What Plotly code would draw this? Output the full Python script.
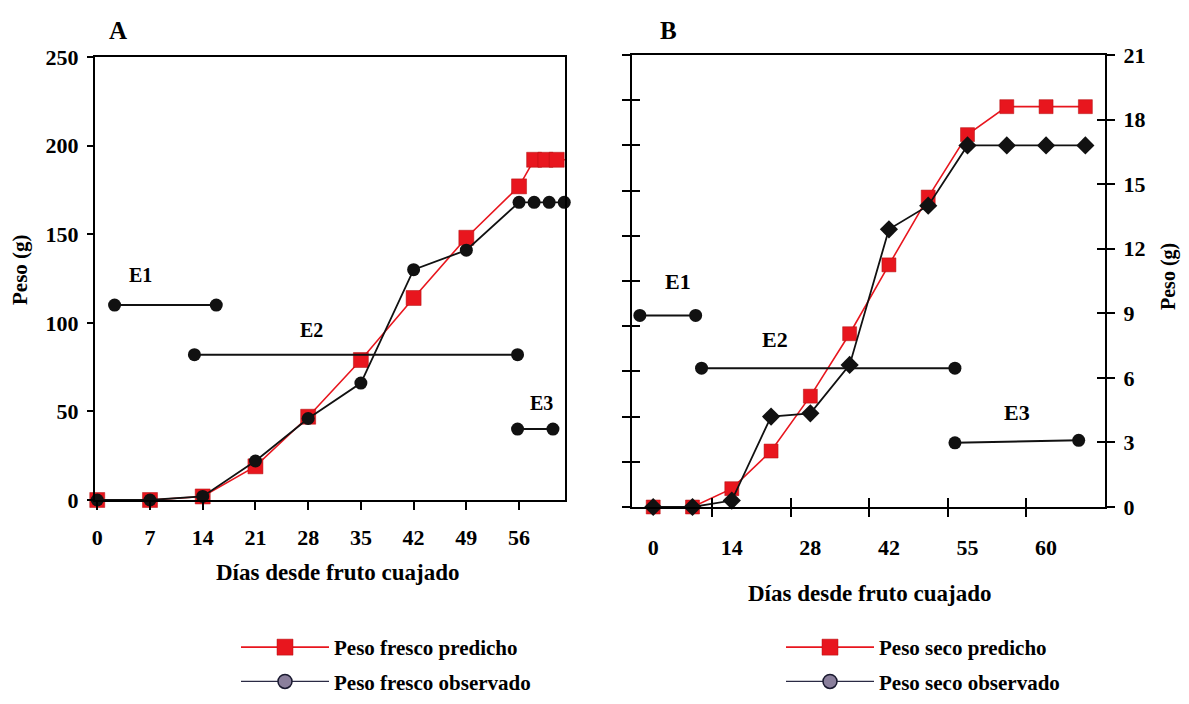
import plotly.graph_objects as go

# ---------------- Data: panel A (peso fresco) ----------------
dias_A_pred = [0, 7, 14, 21, 28, 35, 42, 49, 56, 58, 59.5, 61, 62.5]
peso_fresco_pred = [0, 0, 2, 19, 47, 79, 114, 148, 177, 192, 192, 192, 192]
dias_A_obs = [0, 7, 14, 21, 28, 35, 42, 49, 56, 58, 60, 62]
peso_fresco_obs = [0, 0, 2, 22, 46, 66, 130, 141, 168, 168, 168, 168]
ticks_A = [0, 7, 14, 21, 28, 35, 42, 49, 56]

etapas_A = {
    "E1": {"x": [2.3, 15.8], "y": [110, 110], "lx": 5.8, "ly": 127},
    "E2": {"x": [12.9, 55.8], "y": [82, 82], "lx": 28.5, "ly": 96},
    "E3": {"x": [55.8, 60.5], "y": [40, 40], "lx": 59.0, "ly": 55},
}

# ---------------- Data: panel B (peso seco) ----------------
pos_B = [0, 1, 2, 3, 4, 5, 6, 7, 8, 9, 10, 11]
peso_seco_pred = [0, 0, 0.85, 2.6, 5.15, 8.05, 11.25, 14.4, 17.3, 18.6, 18.6, 18.6]
peso_seco_obs = [0, 0, 0.3, 4.2, 4.35, 6.6, 12.9, 14.0, 16.8, 16.8, 16.8, 16.8]
tickpos_B = [0, 2, 4, 6, 8, 10]
ticklabels_B = ["0", "14", "28", "42", "55", "60"]
tickmarks_B = [1.5, 3.5, 5.5, 7.5, 9.5]

etapas_B = {
    "E1": {"x": [-0.34, 1.08], "y": [8.9, 8.9], "lx": 0.62, "ly": 10.5},
    "E2": {"x": [1.23, 7.68], "y": [6.45, 6.45], "lx": 3.1, "ly": 7.8},
    "E3": {"x": [7.68, 10.83], "y": [2.98, 3.1], "lx": 9.25, "ly": 4.4},
}

RED = "#e8161e"
BLACK = "#111111"
FONT = "Liberation Serif"
TFS = 22
OFF = 8  # page body margin
W, H = 1189 - 2 * OFF, 704 - 2 * OFF


def px(X):
    return (X - OFF) / W


def py(Y):
    return 1 - (Y - OFF) / H


def bf(size):
    return dict(family=FONT, size=size, color="black", weight="bold")


fig = go.Figure()

# ---- Panel A traces ----
fig.add_trace(go.Scatter(x=dias_A_pred, y=peso_fresco_pred, mode="lines+markers",
                         line=dict(color=RED, width=1.6),
                         marker=dict(symbol="square", size=15, color=RED,
                                     line=dict(color="#b01010", width=0.5)),
                         cliponaxis=False, showlegend=False, xaxis="x", yaxis="y"))
fig.add_trace(go.Scatter(x=dias_A_obs, y=peso_fresco_obs, mode="lines+markers",
                         line=dict(color=BLACK, width=1.8),
                         marker=dict(symbol="circle", size=13, color=BLACK),
                         cliponaxis=False, showlegend=False, xaxis="x", yaxis="y"))
for name, e in etapas_A.items():
    fig.add_trace(go.Scatter(x=e["x"], y=e["y"], mode="lines+markers",
                             line=dict(color=BLACK, width=2),
                             marker=dict(symbol="circle", size=13, color=BLACK),
                             cliponaxis=False, showlegend=False, xaxis="x", yaxis="y"))

# ---- Panel B traces ----
fig.add_trace(go.Scatter(x=pos_B, y=peso_seco_pred, mode="lines+markers",
                         line=dict(color=RED, width=1.6),
                         marker=dict(symbol="square", size=14, color=RED,
                                     line=dict(color="#b01010", width=0.5)),
                         cliponaxis=False, showlegend=False, xaxis="x2", yaxis="y2"))
fig.add_trace(go.Scatter(x=pos_B, y=peso_seco_obs, mode="lines+markers",
                         line=dict(color=BLACK, width=1.8),
                         marker=dict(symbol="diamond", size=14, color=BLACK),
                         cliponaxis=False, showlegend=False, xaxis="x2", yaxis="y2"))
for name, e in etapas_B.items():
    fig.add_trace(go.Scatter(x=e["x"], y=e["y"], mode="lines+markers",
                             line=dict(color=BLACK, width=2),
                             marker=dict(symbol="circle", size=13, color=BLACK),
                             cliponaxis=False, showlegend=False, xaxis="x2", yaxis="y2"))

# dummy traces so overlay axes are drawn
for xa, ya in [("x3", "y2"), ("x4", "y2"), ("x2", "y3"), ("x2", "y4"), ("x2", "y5")]:
    fig.add_trace(go.Scatter(x=[None], y=[None], xaxis=xa, yaxis=ya,
                             showlegend=False, hoverinfo="skip"))

# ---- Legend entries ----
leg_font = bf(21)
legend_items = [
    ("Peso fresco predicho", "legend", "x", "y", "pred"),
    ("Peso fresco observado", "legend", "x", "y", "obs"),
    ("Peso seco predicho", "legend2", "x2", "y2", "pred"),
    ("Peso seco observado", "legend2", "x2", "y2", "obs"),
]
for label, leg, xa, ya, kind in legend_items:
    if kind == "pred":
        ln = dict(color=RED, width=1.6)
        mk = dict(symbol="square", size=16, color=RED, line=dict(color="#b01010", width=0.5))
    else:
        ln = dict(color="#2a2a44", width=1.2)
        mk = dict(symbol="circle", size=14, color="#8a7f9c", line=dict(color="#1a1a30", width=1.5))
    fig.add_trace(go.Scatter(x=[None], y=[None], mode="lines+markers", name=label,
                             line=ln, marker=mk, legend=leg, legendgroup=label,
                             xaxis=xa, yaxis=ya))

tickfont = bf(TFS)
axline = dict(showline=True, linecolor="black", linewidth=2, showgrid=False, zeroline=False,
              automargin=False)
ovl = dict(showgrid=False, zeroline=False, automargin=False, showticklabels=False)

xA = [px(95), px(565)]
yA = [py(500), py(57)]
xB = [px(632), px(1105)]
yB = [py(507), py(55)]


def ann(text, X, Y, size, angle=0):
    return dict(text=text, x=px(X), y=py(Y), xref="paper", yref="paper", xanchor="center",
                yanchor="middle", showarrow=False, textangle=angle, font=bf(size))


annotations = [
    ann("A", 118, 30, 25),
    ann("B", 668, 30, 25),
    ann("Días desde fruto cuajado", 337, 572, 23),
    ann("Días desde fruto cuajado", 869, 593, 23),
    ann("Peso (g)", 20, 270, 21, -90),
    ann("Peso (g)", 1169, 277, 20, -90),
]
for name, e in etapas_A.items():
    annotations.append(dict(text=name, x=e["lx"], y=e["ly"], xref="x", yref="y",
                            xanchor="center", yanchor="middle", showarrow=False, font=bf(20)))
for name, e in etapas_B.items():
    annotations.append(dict(text=name, x=e["lx"], y=e["ly"], xref="x2", yref="y2",
                            xanchor="center", yanchor="middle", showarrow=False, font=bf(22)))

fig.update_layout(
    width=W, height=H,
    margin=dict(l=0, r=0, t=0, b=0, autoexpand=False),
    paper_bgcolor="white", plot_bgcolor="white",
    font=dict(family=FONT, color="black"),
    annotations=annotations,
    xaxis=dict(domain=xA, range=[-0.3, 62.1], tickvals=ticks_A, ticks="outside", ticklen=8,
               tickwidth=2, tickcolor="black", tickfont=tickfont, mirror=True, anchor="y",
               ticklabelstandoff=9, **axline),
    yaxis=dict(domain=yA, range=[0, 250], tickvals=[0, 50, 100, 150, 200, 250], ticks="outside",
               ticklen=6, tickwidth=2, tickcolor="black", tickfont=tickfont, mirror=True,
               anchor="x", ticklabelstandoff=4, **axline),
    xaxis2=dict(domain=xB, range=[-0.54, 11.5], tickvals=tickpos_B, ticktext=ticklabels_B,
                ticks="", tickfont=tickfont, mirror=True, anchor="y2", ticklabelstandoff=20,
                **axline),
    xaxis3=dict(domain=xB, range=[-0.54, 11.5], overlaying="x2", anchor="y2", tickvals=tickmarks_B,
                ticks="outside", ticklen=9, tickwidth=2, tickcolor="black", showline=False, **ovl),
    xaxis4=dict(domain=xB, range=[-0.54, 11.5], overlaying="x2", anchor="y2", tickvals=tickmarks_B,
                ticks="inside", ticklen=9, tickwidth=2, tickcolor="black", showline=False, **ovl),
    yaxis2=dict(domain=yB, range=[0, 21], tickvals=[0, 3, 6, 9, 12, 15, 18, 21], side="right",
                anchor="x2", ticks="outside", ticklen=8, tickwidth=2, tickcolor="black",
                tickfont=tickfont, ticklabelstandoff=4, **axline),
    yaxis3=dict(domain=yB, range=[0, 21], overlaying="y2", side="right", anchor="x2",
                tickvals=[0, 3, 6, 9, 12, 15, 18, 21], ticks="inside", ticklen=8, tickwidth=2,
                tickcolor="black", showline=False, **ovl),
    yaxis4=dict(domain=yB, range=[0, 10], overlaying="y2", side="left", anchor="x2", dtick=1,
                tick0=0, ticks="outside", ticklen=8, tickwidth=2, tickcolor="black",
                showline=True, linecolor="black", linewidth=2, **ovl),
    yaxis5=dict(domain=yB, range=[0, 10], overlaying="y2", side="left", anchor="x2", dtick=1,
                tick0=0, ticks="inside", ticklen=8, tickwidth=2, tickcolor="black",
                showline=False, **ovl),
    legend=dict(x=px(236), y=py(627), xanchor="left", yanchor="top", font=leg_font,
                itemwidth=88, bgcolor="rgba(0,0,0,0)", traceorder="grouped", tracegroupgap=4),
    legend2=dict(x=px(781), y=py(627), xanchor="left", yanchor="top", font=leg_font,
                 itemwidth=88, bgcolor="rgba(0,0,0,0)", traceorder="grouped", tracegroupgap=4),
)

fig.write_html("out.html")
